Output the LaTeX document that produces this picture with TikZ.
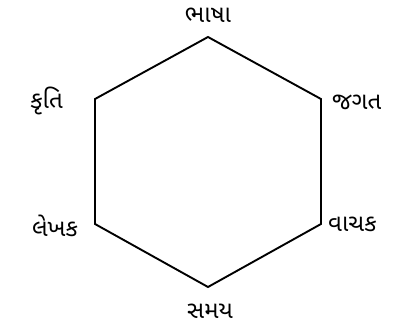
\documentclass[tikz,border=0pt]{standalone}
\usepackage{fontspec}
\newfontfamily\gujfont[Script=Gujarati]{Noto Sans Gujarati UI}
\begin{document}
\begin{tikzpicture}[x=1pt,y=1pt,
  lbl/.style={font=\gujfont\fontsize{24}{28}\selectfont, inner sep=0pt},
  edge/.style={line width=1.9pt, line join=miter}]
\useasboundingbox (0,0) rectangle (394,330);
\coordinate (t) at (208,293);
\coordinate (ur) at (321,231);
\coordinate (lr) at (321,106);
\coordinate (b) at (208,43);
\coordinate (ll) at (95,106);
\coordinate (ul) at (95,231);
\draw[edge] (t) -- (ur) -- (lr) -- (b) -- (ll) -- (ul) -- cycle;
\node[lbl] (n1) at (208,315) {ભાષા};
\node[lbl, anchor=west] (n2) at (332,228) {જગત};
\node[lbl, anchor=west] (n3) at (328,106) {વાચક};
\node[lbl] (n4) at (210,19) {સમય};
\node[lbl, anchor=east] (n5) at (78,104) {લેખક};
\node[lbl, anchor=east] (n6) at (63,229) {કૃતિ};
\end{tikzpicture}
\end{document}
